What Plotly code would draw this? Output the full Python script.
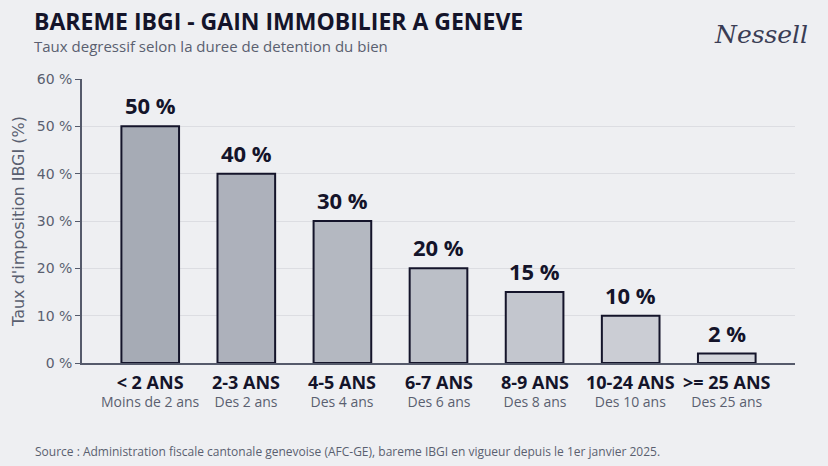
import plotly.graph_objects as go

categories = ["< 2 ANS", "2-3 ANS", "4-5 ANS", "6-7 ANS", "8-9 ANS", "10-24 ANS", ">= 25 ANS"]
sublabels = ["Moins de 2 ans", "Des 2 ans", "Des 4 ans", "Des 6 ans", "Des 8 ans", "Des 10 ans", "Des 25 ans"]
rates = [50, 40, 30, 20, 15, 10, 2]
y_ticks = [0, 10, 20, 30, 40, 50, 60]

bar_colors = ["#a6abb5", "#adb1bb", "#b4b8c1", "#bbbfc7", "#c3c6ce", "#cbcdd4", "#d4d6dc"]
BG = "#eeeff2"
DARK = "#14142a"
GRAY = "#5a5f70"
FONT = "Open Sans"

x = list(range(len(categories)))

fig = go.Figure()
fig.add_trace(go.Bar(
    x=x, y=rates, width=0.6,
    marker=dict(color=bar_colors, line=dict(color=DARK, width=2)),
    hoverinfo="skip",
))

for xi, r in zip(x, rates):
    fig.add_annotation(x=xi, y=r, text=f"<b>{r} %</b>", showarrow=False,
                       yanchor="bottom", yshift=4,
                       font=dict(family=FONT, size=22, color=DARK))

for xi, c, s in zip(x, categories, sublabels):
    fig.add_annotation(
        x=xi, yref="paper", y=-0.097, showarrow=False, yanchor="middle", borderpad=0,
        text=f"<span style='font-size:18px;color:{DARK}'><b>{c}</b></span><br>{s}",
        font=dict(family=FONT, size=14, color=GRAY))

fig.add_annotation(
    xref="paper", yref="paper", x=-0.069, y=1.17, xanchor="left", yanchor="middle",
    align="left", showarrow=False, borderpad=0,
    text=f"<span style='font-size:23px;color:{DARK}'><b>BAREME IBGI - GAIN IMMOBILIER A GENEVE</b></span>"
         "<br><span style='font-size:15px'>Taux degressif selon la duree de detention du bien</span>",
    font=dict(family=FONT, size=17, color=GRAY))
fig.add_annotation(xref="paper", yref="paper", x=1.021, y=1.155, xanchor="right", yanchor="middle",
                   text="<i>Nessell</i>", showarrow=False,
                   font=dict(family="DejaVu Serif", size=25, color="#3a3d55"))
fig.add_annotation(xref="paper", yref="paper", x=-0.069, y=-0.313, xanchor="left", yanchor="middle",
                   text="Source : Administration fiscale cantonale genevoise (AFC-GE), bareme IBGI en vigueur depuis le 1er janvier 2025.",
                   showarrow=False,
                   font=dict(family=FONT, size=12, color=GRAY))

fig.update_layout(
    width=828, height=466,
    margin=dict(l=82, r=33, t=79, b=103),
    paper_bgcolor=BG, plot_bgcolor=BG,
    showlegend=False,
    xaxis=dict(
        range=[-0.71, 6.71], tickmode="array", tickvals=x, showticklabels=False,
        showgrid=False, zeroline=False, showline=True, linecolor="#555a6b", linewidth=1.5,
        ticks="",
    ),
    yaxis=dict(
        range=[0, 60], tickmode="array", tickvals=y_ticks,
        ticktext=[f"{v} %" for v in y_ticks],
        showgrid=True, gridcolor="#dcdde2", gridwidth=1, zeroline=False,
        showline=True, linecolor="#555a6b", linewidth=1.5,
        ticks="outside", ticklen=5, tickcolor="#555a6b",
        tickfont=dict(family="DejaVu Sans", size=14, color=GRAY),
        title=dict(text="Taux d'imposition IBGI (%)", standoff=8,
                   font=dict(family="DejaVu Sans", size=16, color=GRAY)),
    ),
)

fig.write_html("out.html")
